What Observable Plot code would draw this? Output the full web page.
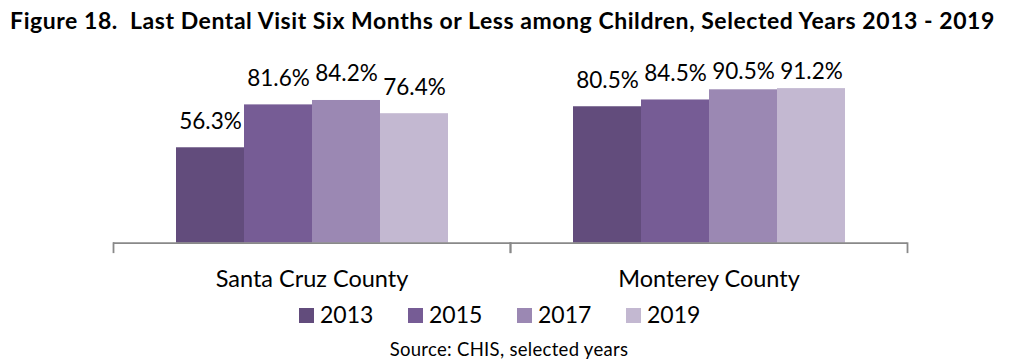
<!DOCTYPE html>
<html><head><meta charset="utf-8">
<script src="https://cdn.jsdelivr.net/npm/d3@7"></script>
<script src="https://cdn.jsdelivr.net/npm/@observablehq/plot@0.6"></script>
<style>
body{margin:0;background:#fff;font-family:Lato,"Open Sans",sans-serif;color:#000;}
#wrap{position:relative;width:1013px;height:362px;overflow:hidden;}
#title{position:absolute;left:0;top:6.6px;width:1005px;text-align:center;font-weight:bold;font-size:23px;letter-spacing:0.55px;line-height:1.2;white-space:pre;}
#chart{position:absolute;left:0;top:40px;}
#legend{position:absolute;left:299px;top:300.6px;font-size:23px;line-height:1.2;white-space:nowrap;display:flex;}
#legend .item{width:109px;}
#legend .sw{display:inline-block;width:15px;height:15px;margin-right:6px;}
#source{position:absolute;left:0;width:1018px;top:338.4px;text-align:center;font-size:18.5px;letter-spacing:0.3px;line-height:1.2;white-space:nowrap;}
</style></head>
<body>
<div id="wrap">
  <div id="title"></div>
  <div id="chart"></div>
  <div id="legend"></div>
  <div id="source"></div>
</div>
<script>
// ---- data ----
const titleText = "Figure 18.  Last Dental Visit Six Months or Less among Children, Selected Years 2013 - 2019";
const sourceText = "Source: CHIS, selected years";
const counties = ["Santa Cruz County", "Monterey County"];
const years = ["2013", "2015", "2017", "2019"];
const santaCruzValues = [56.3, 81.6, 84.2, 76.4];
const montereyValues = [80.5, 84.5, 90.5, 91.2];

// ---- styles ----
const palette = ["#624c7c", "#765c95", "#9b88b3", "#c3b8d1"];
const axisGray = "#898989";

const rows = [];
years.forEach((y, i) => rows.push({county: counties[0], year: y, value: santaCruzValues[i]}));
years.forEach((y, i) => rows.push({county: counties[1], year: y, value: montereyValues[i]}));

// labels are kept inside the plot area (as in the original chart)
const labelCeiling = 85.7;

const W = 1013, H = 260, mT = 33.2, mB = 57.3, mL = 112, mR = 105.7;
const innerH = H - mT - mB;

const chart = Plot.plot({
  width: W, height: H,
  marginTop: mT, marginBottom: mB, marginLeft: mL, marginRight: mR,
  style: {fontFamily: "Lato, 'Open Sans', sans-serif", color: "#000", background: "transparent", overflow: "visible"},
  fx: {domain: counties, padding: 0, label: null},
  x: {domain: years, paddingInner: 0, paddingOuter: 0.906, axis: null},
  y: {domain: [0, 100], axis: null},
  color: {domain: years, range: palette},
  marks: [
    Plot.barY(rows, {fx: "county", x: "year", y: "value", fill: "year"}),
    Plot.ruleY([0], {stroke: axisGray, strokeWidth: 1.8}),
    Plot.frame({anchor: "left", stroke: axisGray, strokeWidth: 1.8, insetTop: innerH, insetBottom: -9}),
    Plot.frame({anchor: "right", stroke: axisGray, strokeWidth: 1.8, insetTop: innerH, insetBottom: -9}),
    Plot.text(rows, {fx: "county", x: "year", y: d => Math.min(d.value, labelCeiling),
      text: d => d.value.toFixed(1) + "%", lineAnchor: "bottom", dy: -19, fontSize: 22.5, fill: "#000"}),
    Plot.axisFx({anchor: "bottom", tickSize: 0, tickPadding: 27, fontSize: 23.5, label: null, fill: "#000"})
  ]
});
document.getElementById("chart").appendChild(chart);
document.getElementById("title").textContent = titleText;
document.getElementById("source").textContent = sourceText;
const legend = document.getElementById("legend");
years.forEach((y, i) => {
  const item = document.createElement("span");
  item.className = "item";
  const sw = document.createElement("span");
  sw.className = "sw";
  sw.style.background = palette[i];
  item.appendChild(sw);
  item.appendChild(document.createTextNode(y));
  legend.appendChild(item);
});
</script>
</body></html>
